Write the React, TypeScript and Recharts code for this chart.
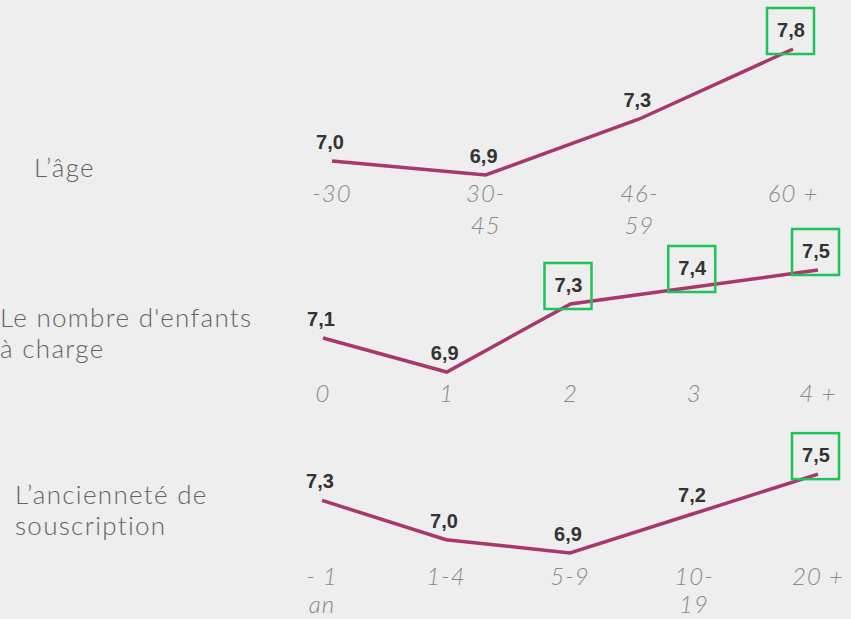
import React from "react";
import { LineChart, Line, XAxis, YAxis } from "recharts";

const W = 851;
const H = 619;

// L'âge
const ageCategories = ["-30", "30-\n45", "46-\n59", "60 +"];
const ageValues = [7.0, 6.9, 7.3, 7.8];
const ageHighlight = [false, false, false, true];

// Le nombre d'enfants à charge
const childCategories = ["0", "1", "2", "3", "4 +"];
const childValues = [7.1, 6.9, 7.3, 7.4, 7.5];
const childHighlight = [false, false, true, true, true];

// L'ancienneté de souscription
const seniorityCategories = ["- 1\nan", "1-4", "5-9", "10-\n19", "20 +"];
const seniorityValues = [7.3, 7.0, 6.9, 7.2, 7.5];
const seniorityHighlight = [false, false, false, false, true];

const LINE = "#a8386c";
const BOX = "#1ec35a";
const AXIS_H = 30;

type Panel = {
  categories: string[];
  values: number[];
  highlight: boolean[];
  domain: [number, number];
  xFirst: number;
  xLast: number;
  yTop: number;
  yBottom: number;
  tickY: number;
  lineGap: number;
};

const fmt = (v: number) => v.toFixed(1).replace(".", ",");

function MiniChart({ p }: { p: Panel }) {
  const data = p.categories.map((c, i) => ({
    cat: c,
    value: p.values[i],
    hl: p.highlight[i],
  }));

  const renderTick = (props: any) => {
    const { x, payload } = props;
    const lines = String(payload.value).split("\n");
    return (
      <text
        x={x}
        y={p.tickY}
        textAnchor="middle"
        fill="#8a8a8a"
        fontSize={24}
        fontStyle="italic"
        fontWeight={300}
        letterSpacing={1}
        fontFamily="Lato, 'Open Sans', sans-serif"
      >
        {lines.map((l, i) => (
          <tspan key={i} x={x} dy={i === 0 ? 0 : p.lineGap}>
            {l}
          </tspan>
        ))}
      </text>
    );
  };

  const renderDot = (props: any) => {
    const { cx, cy, index, payload } = props;
    return (
      <g key={`lbl-${index}`}>
        {payload.hl && (
          <rect
            x={cx - 26}
            y={cy - 18 - 23}
            width={47}
            height={46}
            fill="none"
            stroke={BOX}
            strokeWidth={2.5}
          />
        )}
        <text
          x={cx - 2}
          y={cy - 12}
          textAnchor="middle"
          fill="#333"
          fontSize={20}
          fontWeight="bold"
          fontFamily="'Liberation Sans', Arial, sans-serif"
        >
          {fmt(payload.value)}
        </text>
      </g>
    );
  };

  return (
    <div style={{ position: "absolute", left: 0, top: 0 }}>
      <LineChart
        width={W}
        height={H}
        data={data}
        margin={{
          top: p.yTop,
          bottom: H - p.yBottom - AXIS_H,
          left: p.xFirst,
          right: W - p.xLast,
        }}
      >
        <XAxis
          dataKey="cat"
          height={AXIS_H}
          axisLine={false}
          tickLine={false}
          interval={0}
          tick={renderTick}
        />
        <YAxis hide domain={p.domain} />
        <Line
          type="linear"
          dataKey="value"
          stroke={LINE}
          strokeWidth={3.5}
          dot={renderDot}
          activeDot={false}
          isAnimationActive={false}
        />
      </LineChart>
    </div>
  );
}

const panels: Panel[] = [
  {
    categories: ageCategories,
    values: ageValues,
    highlight: ageHighlight,
    domain: [6.8, 7.9],
    xFirst: 332,
    xLast: 793,
    yTop: 35,
    yBottom: 189,
    tickY: 202,
    lineGap: 32,
  },
  {
    categories: childCategories,
    values: childValues,
    highlight: childHighlight,
    domain: [6.8, 7.6],
    xFirst: 323,
    xLast: 818,
    yTop: 253,
    yBottom: 389,
    tickY: 402,
    lineGap: 31,
  },
  {
    categories: seniorityCategories,
    values: seniorityValues,
    highlight: seniorityHighlight,
    domain: [6.8, 7.6],
    xFirst: 322,
    xLast: 818,
    yTop: 461,
    yBottom: 566,
    tickY: 585,
    lineGap: 28,
  },
];

const rowLabels = [
  { x: 34, lines: ["L’âge"], y: 177 },
  { x: 0, lines: ["Le nombre d'enfants", "à charge"], y: 327 },
  { x: 15, lines: ["L’ancienneté de", "souscription"], y: 504 },
];

export default function App() {
  return (
    <div
      style={{
        position: "absolute",
        left: 0,
        top: 0,
        width: W,
        height: H,
        background: "#eeeeee",
        overflow: "hidden",
      }}
    >
      <svg
        width={W}
        height={H}
        style={{ position: "absolute", left: 0, top: 0 }}
      >
        {rowLabels.map((r, i) => (
          <text
            key={i}
            x={r.x}
            y={r.y}
            fill="#676068"
            fontSize={26}
            fontWeight={300}
            letterSpacing={1.3}
            fontFamily="Lato, 'Open Sans', sans-serif"
          >
            {r.lines.map((l, j) => (
              <tspan key={j} x={r.x} dy={j === 0 ? 0 : 31}>
                {l}
              </tspan>
            ))}
          </text>
        ))}
      </svg>
      {panels.map((p, i) => (
        <MiniChart key={i} p={p} />
      ))}
    </div>
  );
}
